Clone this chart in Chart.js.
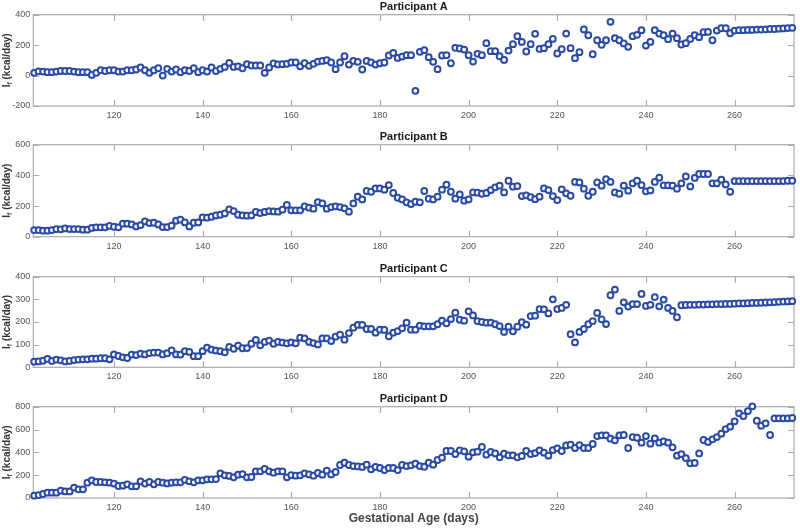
<!DOCTYPE html>
<html>
<head>
<meta charset="utf-8">
<script src="https://cdn.jsdelivr.net/npm/chart.js@4"></script>
<style>
  body { margin: 0; background: #fff; }
  #wrap { position: relative; width: 800px; height: 528px; }
  canvas { position: absolute; left: 0; }
</style>
</head>
<body>
<div id="wrap">
  <canvas id="pA" width="800" height="130" style="top:0px"></canvas>
  <canvas id="pB" width="800" height="132" style="top:130px"></canvas>
  <canvas id="pC" width="800" height="130" style="top:262px"></canvas>
  <canvas id="pD" width="800" height="136" style="top:392px"></canvas>
</div>
<script>
// gestational age, one reading per day
const days = [
  102,103,104,105,106,107,108,109,110,111,
  112,113,114,115,116,117,118,119,120,121,
  122,123,124,125,126,127,128,129,130,131,
  132,133,134,135,136,137,138,139,140,141,
  142,143,144,145,146,147,148,149,150,151,
  152,153,154,155,156,157,158,159,160,161,
  162,163,164,165,166,167,168,169,170,171,
  172,173,174,175,176,177,178,179,180,181,
  182,183,184,185,186,187,188,189,190,191,
  192,193,194,195,196,197,198,199,200,201,
  202,203,204,205,206,207,208,209,210,211,
  212,213,214,215,216,217,218,219,220,221,
  222,223,224,225,226,227,228,229,230,231,
  232,233,234,235,236,237,238,239,240,241,
  242,243,244,245,246,247,248,249,250,251,
  252,253,254,255,256,257,258,259,260,261,
  262,263,264,265,266,267,268,269,270,271,
  272,273
];
const xTicks = [120, 140, 160, 180, 200, 220, 240, 260];

// intake I_f (kcal/day)
const intakeA = [
  18,28,26,22,22,26,30,30,30,26,22,22,22,4,18,35,30,35,35,26,26,35,35,40,53,35,18,35,48,0,
  44,26,40,22,35,30,48,22,35,26,53,30,44,57,83,57,61,48,75,66,66,66,18,53,80,73,
  75,77,86,86,61,81,64,77,92,96, 101,86,42,86,127,72,96,90,40,96,
  86,72,81,86,132,149,116,125,134,134, -100,156,167,121,90,42,132,134,81,182,
  178,171,134,92,143,134,213,160,160,127, 103,164,206,259,221,158,206,274,
  175,180,206,241,145,173,276,180,114,154, 303,265,140,232,202,232,353,246,232,211,
  189,259,268,298,197,221,298,276,265,239, 276,246,204,213,241,265,252,285,287,232,
  296,311,311,278,296, 298,298,300,300,302,302,304,306,306,308,310,312,314
];
const intakeB = [
  43,43,39,39,43,50,48,54,50,50, 50,46,46,57,61,61,61,70,65,61,
  85,85,80,67,76,100,89,91,80,63, 63,72,104,111,93,67,91,93,126,124,
  130,139,143,152,178,167,143,139,137,139, 161,154,161,167,165,163,
  176,207,172,172,172,198,189,183,226,217, 183,193,198,193,185,163,217,261,243,298,
  293,315,315,307,337,285,254,243,224,213, 228,224,298,248,243,261,307,339,293,248,
  276,235,243,289,287,280,285,304,322,333, 289,365,326,330,265,270,258,245,
  261,315,304,265,239,309,283,267,357,354, 313,267,293,354,333,376,357,289,280,333,
  300,348,365,337,296,302,357,385,335,335, 333,313,348,393,328,383,409,409,409,348,
  348,372,341,293,363, 363,363,363,363,363,363,363,363,363,363,363,365,365
];
const intakeC = [
  25,26,29,37,28,34,31,26,28,32, 34,35,35,38,38,40,40,35,57,50,
  44,41,56,54,60,57,63,65,65,57, 62,75,57,56,71,68,49,49,71,87,
  78,74,71,66,90,82,96,84,85,104, 121,97,112,118,104,112,
  109,106,110,106,131,128,112,107,101,128, 128,116,135,144,122,151,175,187,187,169,
  169,153,166,165,137,153,160,172,197,166, 166,184,181,181,181,190,206,194,213,241,
  210,206,247,229,204,200,197,197,190,182, 156,179,159,179,199,188,226,228,
  257,256,238,300,257,262,276,146,110,156, 169,190,204,240,212,191,318,343,249,287,
  268,279,279,324,271,276,310,269,299,262, 249,221,274,
  275,276,276,277,277,278,278,279,279,280,280,281,282,282,283,284,284,285,286,287,288,289,290,291,292
];
const intakeD = [
  20,26,35,47,47,47,64,58,58,91, 76,76,134,155,140,140,137,134,126,105,
  108,120,102,102,146,126,140,120,140,134, 128,134,137,137,158,146,137,155,155,164,
  164,166,216,199,193,181,204,210,181,184, 234,234,254,234,222,234,
  234,181,201,196,199,216,207,196,219,204, 239,207,228,289,309,289,280,277,272,292,
  251,272,263,245,263,263,245,289,280,286, 301,280,274,309,292,333,353,412,412,385,
  418,409,362,400,406,447,380,403,391,356, 388,374,374,356,368,412,385,394,
  418,397,371,420,435,412,461,467,438,464, 438,438,473,543,549,549,520,505,549,552,
  438,534,528,485,543,476,523,485,496,485, 444,371,385,350,304,307,391,508,491,514,
  534,564,604,625,672,742,718,762,803,677, 634,654,552,698,698,698,698,701
];

const yTicksA = [-200, 0, 200, 400];
const yTicksB = [0, 200, 400, 600];
const yTicksC = [0, 100, 200, 300, 400];
const yTicksD = [0, 200, 400, 600, 800];

const FONT = "'Liberation Sans', Arial, sans-serif";

// matlab style box with inward ticks + y label with subscript
const boxPlugin = {
  id: 'box',
  beforeDatasetsDraw(chart) {
    const { ctx, chartArea: a, scales } = chart;
    ctx.save();
    ctx.strokeStyle = '#ababab';
    ctx.lineWidth = 1.2;
    ctx.strokeRect(a.left, a.top, a.right - a.left, a.bottom - a.top);
    const tl = 6;
    ctx.beginPath();
    scales.x.ticks.forEach(t => {
      const px = Math.round(scales.x.getPixelForValue(t.value)) + 0.5;
      ctx.moveTo(px, a.top); ctx.lineTo(px, a.top + tl);
      ctx.moveTo(px, a.bottom); ctx.lineTo(px, a.bottom - tl);
    });
    scales.y.ticks.forEach(t => {
      const py = Math.round(scales.y.getPixelForValue(t.value)) + 0.5;
      ctx.moveTo(a.left, py); ctx.lineTo(a.left + tl, py);
      ctx.moveTo(a.right, py); ctx.lineTo(a.right - tl, py);
    });
    ctx.stroke();

    // y axis label: I_f (kcal/day)
    ctx.translate(7, (a.top + a.bottom) / 2);
    ctx.rotate(-Math.PI / 2);
    ctx.fillStyle = '#333';
    ctx.textBaseline = 'middle';
    ctx.textAlign = 'left';
    const big = 'bold 10px ' + FONT, small = 'bold 7px ' + FONT;
    ctx.font = big;
    const wI = ctx.measureText('I').width;
    const wRest = ctx.measureText(' (kcal/day)').width;
    ctx.font = small;
    const wf = ctx.measureText('f').width;
    let x0 = -(wI + wf + wRest) / 2;
    ctx.font = big;
    ctx.fillText('I', x0, 0);
    ctx.font = small;
    ctx.fillText('f', x0 + wI, 3);
    ctx.font = big;
    ctx.fillText(' (kcal/day)', x0 + wI + wf, 0);
    ctx.restore();
  }
};

function makePanel(id, title, values, yMin, yMax, yTicks, xAxisH, showXTitle) {
  new Chart(document.getElementById(id), {
    type: 'scatter',
    data: {
      datasets: [{
        data: days.map((d, i) => ({ x: d, y: values[i] })),
        pointRadius: 2.9,
        pointBorderWidth: 2,
        pointBorderColor: '#2a4aa6',
        pointBackgroundColor: '#ffffff',
        clip: false
      }]
    },
    options: {
      responsive: false,
      animation: false,
      devicePixelRatio: 1,
      layout: { padding: { left: 0, right: 5, top: 0, bottom: 0 } },
      plugins: {
        legend: { display: false },
        tooltip: { enabled: false },
        title: {
          display: true, text: title, fullSize: false,
          color: '#1a1a1a',
          font: { family: FONT, size: 11, weight: 'bold' },
          padding: { top: 0, bottom: 1.5 }
        }
      },
      scales: {
        x: {
          type: 'linear', min: 101.8, max: 273.4,
          afterBuildTicks: s => { s.ticks = xTicks.map(v => ({ value: v })); },
          afterFit: s => { s.height = xAxisH; },
          grid: { display: false, drawTicks: false },
          border: { display: false },
          ticks: { color: '#555', font: { family: FONT, size: 9 }, padding: 4, maxRotation: 0 },
          title: {
            display: showXTitle, text: 'Gestational Age (days)', color: '#444',
            font: { family: FONT, size: 12, weight: 'bold' },
            padding: { top: 0, bottom: 2 }
          }
        },
        y: {
          min: yMin, max: yMax,
          afterBuildTicks: s => { s.ticks = yTicks.map(v => ({ value: v })); },
          afterFit: s => { s.width = 33.3; },
          grid: { display: false, drawTicks: false },
          border: { display: false },
          ticks: { color: '#555', font: { family: FONT, size: 9 }, padding: 3 }
        }
      }
    },
    plugins: [boxPlugin]
  });
}

makePanel('pA', 'Participant A', intakeA, -200, 400, yTicksA, 24, false);
makePanel('pB', 'Participant B', intakeB, 0, 600, yTicksB, 25.3, false);
makePanel('pC', 'Participant C', intakeC, 0, 400, yTicksC, 24.7, false);
makePanel('pD', 'Participant D', intakeD, 0, 800, yTicksD, 30, true);
</script>
</body>
</html>
